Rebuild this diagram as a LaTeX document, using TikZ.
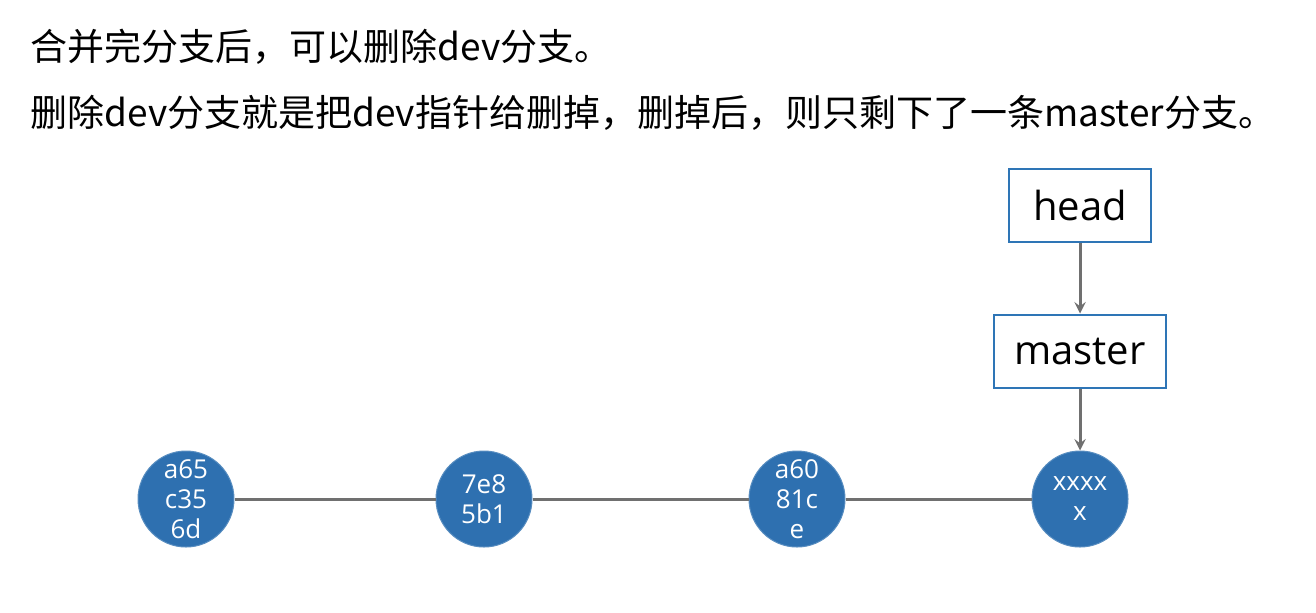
\documentclass[tikz,border=0pt]{standalone}
\usepackage{fontspec}
\setmainfont{Open Sans}
\newfontfamily\cjk{Noto Sans CJK SC}
\usetikzlibrary{arrows,positioning}
\definecolor{commitblue}{RGB}{46,112,176}
\definecolor{boxblue}{RGB}{46,117,182}
\definecolor{linegray}{RGB}{112,112,112}
\tikzstyle{commit} = [circle,fill=commitblue,draw=commitblue!80!white,line width=0.5pt,minimum size=48pt,inner sep=0pt,text=white,align=center,font=\fontsize{13}{15}\selectfont]
\tikzstyle{pointer} = [draw=boxblue,line width=1pt,minimum height=36.5pt,inner sep=0pt,font=\fontsize{20}{24}\selectfont]
\tikzstyle{arrow} = [line width=1.5pt,draw=linegray,->,>=stealth]
\tikzstyle{link} = [line width=1.5pt,draw=linegray]

\begin{document}
\begin{tikzpicture}[x=0.5pt,y=-0.5pt]
	\useasboundingbox (0,0) rectangle (1316,612);

	\node[anchor=west,inner sep=0pt,font=\cjk\fontsize{18.5}{22}\selectfont](line1) at (30,47) {合并完分支后，可以删除dev分支。};
	\node[anchor=west,inner sep=0pt,font=\cjk\fontsize{18.5}{22}\selectfont](line2) at (30,113) {删除dev分支就是把dev指针给删掉，删掉后，则只剩下了一条master分支。};

	\node[commit](c1) at (186,499) {a65\\c35\\6d};
	\node[commit,right=100.5pt of c1](c2) {7e8\\5b1};
	\node[commit,right=108pt of c2](c3) {a60\\81c\\e};
	\node[commit,right=93pt of c3](c4) {xxxx\\x};
	\node[pointer,minimum width=86pt,above=31pt of c4](master) {master};
	\node[pointer,minimum width=71pt,above=35.5pt of master](head) {head};

	\draw[link] (c1) -- (c2);
	\draw[link] (c2) -- (c3);
	\draw[link] (c3) -- (c4);
	\draw[arrow] (head) -- (master);
	\draw[arrow] (master) -- (c4);

\end{tikzpicture}
\end{document}
